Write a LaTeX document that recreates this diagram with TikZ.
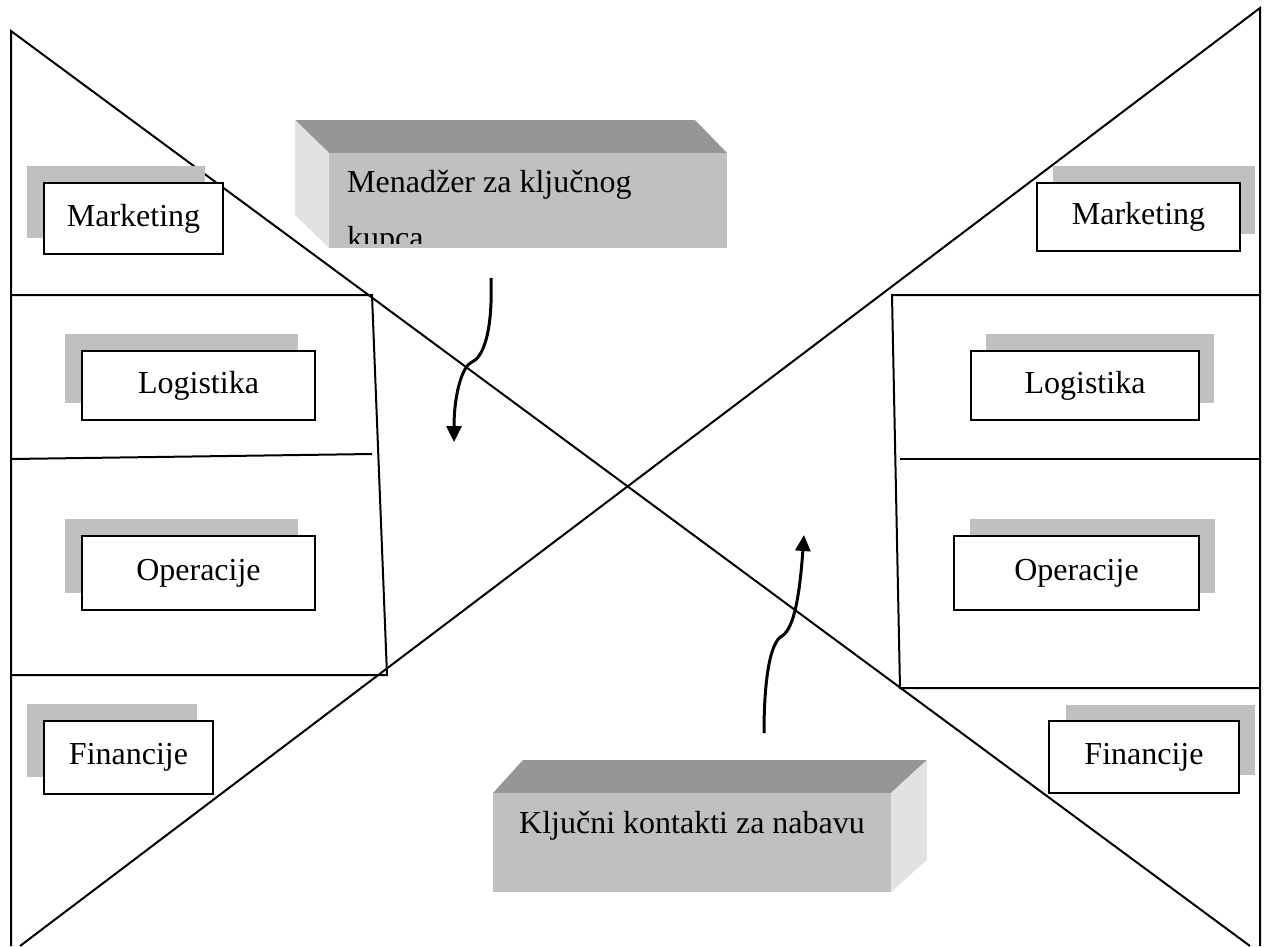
\documentclass[tikz,border=0pt]{standalone}
\usepackage{fontspec}
\setmainfont{Liberation Serif}
\usetikzlibrary{arrows.meta}
\definecolor{shade}{HTML}{C0C0C0}
\definecolor{topface}{HTML}{969696}
\definecolor{sideface}{HTML}{E2E2E2}
\tikzset{
  line/.style={line width=2pt, black},
  shadowbox/.style={fill=shade, draw=none},
  labelbox/.style={draw=black, line width=2pt, fill=white},
  lbl/.style={font=\fontsize{32}{38}\selectfont, inner sep=0pt},
  flow/.style={line width=3pt, -{Triangle[length=16pt,width=15pt]}},
}
\begin{document}
\begin{tikzpicture}[x=1pt,y=-1pt]
\useasboundingbox (0,0) rectangle (1270,946);
% outer bow-tie lines
\draw[line] (11,946) -- (11,31) -- (1250,946);
\draw[line] (20,946) -- (1260,8) -- (1260,946);
% left panel
\draw[line] (11,295) -- (372,295) -- (387,675) -- (11,675);
\draw[line] (11,459) -- (372,454);
% right panel
\draw[line] (1260,295) -- (892,295) -- (900,688) -- (1260,688);
\draw[line] (900,459) -- (1260,459);
% left labelled boxes
\fill[shadowbox] (27,166) rectangle (205,238);
\node[labelbox, lbl, minimum width=179pt, minimum height=71pt, anchor=north west] (lm) at (43,182) {Marketing};
\fill[shadowbox] (65,334) rectangle (298,403);
\node[labelbox, lbl, minimum width=233pt, minimum height=69pt, anchor=north west] (ll) at (81,350) {Logistika};
\fill[shadowbox] (65,519) rectangle (298,593);
\node[labelbox, lbl, minimum width=233pt, minimum height=74pt, anchor=north west] (lo) at (81,535) {Operacije};
\fill[shadowbox] (27,704) rectangle (197,777);
\node[labelbox, lbl, minimum width=169pt, minimum height=73pt, anchor=north west] (lf) at (43,720) {Financije};
% right labelled boxes
\fill[shadowbox] (1053,166) rectangle (1255,234);
\node[labelbox, lbl, minimum width=203pt, minimum height=68pt, anchor=north west] (rm) at (1036,182) {Marketing};
\fill[shadowbox] (986,334) rectangle (1214,403);
\node[labelbox, lbl, minimum width=228pt, minimum height=69pt, anchor=north west] (rl) at (970,350) {Logistika};
\fill[shadowbox] (970,519) rectangle (1215,593);
\node[labelbox, lbl, minimum width=245pt, minimum height=74pt, anchor=north west] (ro) at (953,535) {Operacije};
\fill[shadowbox] (1066,705) rectangle (1255,775);
\node[labelbox, lbl, minimum width=190pt, minimum height=72pt, anchor=north west] (rf) at (1048,720) {Financije};
% top 3D box
\fill[topface] (295,120) -- (695,120) -- (727,153) -- (329,153) -- cycle;
\fill[sideface] (295,120) -- (329,153) -- (329,248) -- (295,215) -- cycle;
\node[fill=shade, draw=none, minimum width=398pt, minimum height=95pt, inner sep=0pt, anchor=north west] (mk) at (329,153) {};
\begin{scope}
\clip (329,153) rectangle (727,243);
\node[lbl, anchor=base west] (mk1) at (347,192) {Menadžer za ključnog};
\node[lbl, anchor=base west] (mk2) at (347,248) {kupca};
\end{scope}
% bottom 3D box
\fill[topface] (493,793) -- (523,760) -- (927,760) -- (891,793) -- cycle;
\fill[sideface] (891,793) -- (927,760) -- (927,860) -- (891,892) -- cycle;
\node[fill=shade, draw=none, minimum width=398pt, minimum height=99pt, inner sep=0pt, anchor=north west] (kk) at (493,793) {};
\node[lbl, anchor=base] (kkt) at (692,833) {Ključni kontakti za nabavu};
% arrows
\coordinate (a1s) at (491,278);
\coordinate (a1e) at (454,442);
\coordinate (a2s) at (764,733);
\coordinate (a2e) at (804,535);
\draw[flow] (a1s) .. controls (493,335) and (482,358) .. (472,362)
  .. controls (462,366) and (454,395) .. (a1e);
\draw[flow] (a2s) .. controls (764,680) and (770,642) .. (782,636)
  .. controls (795,628) and (800,590) .. (a2e);
\end{tikzpicture}
\end{document}
